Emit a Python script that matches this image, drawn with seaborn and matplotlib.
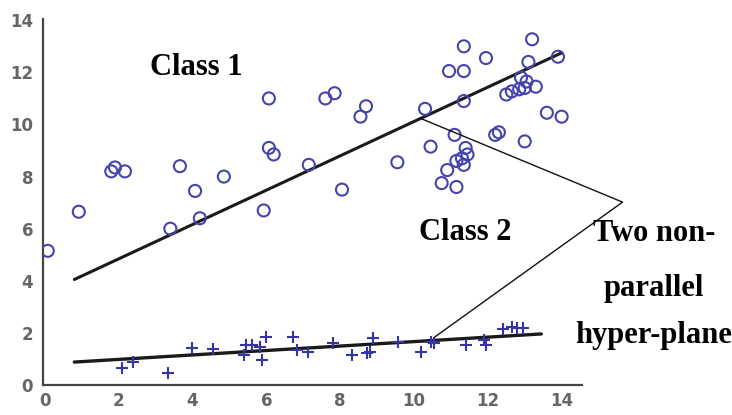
import numpy as np
import pandas as pd
import seaborn as sns
import matplotlib.pyplot as plt

# Class 1 points (circles)
c1_x = [0.08, 0.92, 1.8, 1.9, 2.17, 3.66, 3.4, 4.07, 4.2, 4.85, 5.93, 6.07, 6.07, 6.2,
        7.15, 7.6, 7.85, 8.05, 8.55, 8.7, 9.55, 11.35, 11.95, 10.95, 11.35, 13.2, 13.1,
        13.9, 12.9, 13.05, 12.5, 12.65, 12.85, 13.0, 13.3, 11.35, 10.3, 13.6, 14.0, 11.1,
        12.3, 12.2, 10.45, 13.0, 11.4, 11.45, 11.3, 11.15, 11.35, 10.9, 10.75, 11.15]
c1_y = [5.15, 6.65, 8.2, 8.35, 8.2, 8.4, 6.0, 7.45, 6.4, 8.0, 6.7, 11.0, 9.1, 8.85,
        8.45, 11.0, 11.2, 7.5, 10.3, 10.7, 8.55, 13.0, 12.55, 12.05, 12.05, 13.27, 12.4,
        12.6, 11.8, 11.65, 11.15, 11.27, 11.35, 11.4, 11.45, 10.9, 10.6, 10.45, 10.3, 9.6,
        9.7, 9.6, 9.15, 9.35, 9.1, 8.85, 8.7, 8.6, 8.45, 8.25, 7.75, 7.6]

# Class 2 points (plus signs)
c2_x = [2.08, 2.38, 3.33, 4.0, 4.55, 5.46, 5.4, 5.6, 5.83, 5.88, 6.0, 6.72, 6.83, 7.13,
        7.8, 8.32, 8.72, 8.9, 8.8, 9.57, 10.2, 10.47, 10.54, 11.4, 11.9, 11.95, 12.4,
        12.65, 12.8, 12.95]
c2_y = [0.65, 0.88, 0.46, 1.42, 1.38, 1.54, 1.15, 1.55, 1.46, 0.96, 1.85, 1.85, 1.35, 1.27,
        1.6, 1.15, 1.23, 1.8, 1.27, 1.65, 1.27, 1.65, 1.6, 1.54, 1.73, 1.54, 2.15,
        2.23, 2.19, 2.19]

# hyper-plane end points
plane1_x = [0.8, 14.0]
plane1_y = [4.05, 12.75]
plane2_x = [0.8, 13.45]
plane2_y = [0.88, 1.96]

# pointer lines to the label
pointer_x = [10.15, 15.65, 10.56]
pointer_y = [10.25, 7.02, 1.84]

df1 = pd.DataFrame({"x": c1_x, "y": c1_y})
df2 = pd.DataFrame({"x": c2_x, "y": c2_y})

sns.set_style("white")
plt.rcParams['font.family'] = ['DejaVu Sans']

fig = plt.figure(figsize=(7.32, 4.15), dpi=100)
ax = fig.add_axes([0.0587, 0.0723, 0.7363, 0.882])

sns.scatterplot(data=df1, x="x", y="y", ax=ax, marker="o", s=75,
                facecolors="none", edgecolor="#4444aa", linewidth=1.5, zorder=3)
sns.scatterplot(data=df2, x="x", y="y", ax=ax, marker="+", s=70,
                color="#3535a8", linewidth=1.5, zorder=3)

sns.lineplot(x=plane1_x, y=plane1_y, ax=ax, color="#1a1a1a", lw=2.2, zorder=2)
sns.lineplot(x=plane2_x, y=plane2_y, ax=ax, color="#1a1a1a", lw=2.4, zorder=2)

ax.plot(pointer_x, pointer_y, color="#111111", lw=1.0, clip_on=False, zorder=4)

ax.set_xlim(-0.05, 14.55)
ax.set_ylim(0, 14.05)
ax.set_xticks(range(0, 15, 2))
ax.set_yticks(range(0, 15, 2))
ax.set_xlabel("")
ax.set_ylabel("")

sns.despine(ax=ax)
for side in ["left", "bottom"]:
    ax.spines[side].set_color("#444444")
    ax.spines[side].set_linewidth(1.6)
ax.tick_params(direction="in", length=4, width=1.4, color="#444444",
               labelsize=12, labelcolor="#666666")
for lab in ax.get_xticklabels() + ax.get_yticklabels():
    lab.set_fontweight("bold")
ax.tick_params(axis="y", pad=7)
ax.tick_params(axis="x", pad=5)

serif = ["Liberation Serif", "DejaVu Serif"]
txt = dict(family=serif, fontsize=22, fontweight="bold", color="black",
           ha="center", va="center")
ax.text(4.1, 12.2, "Class 1", **txt)
ax.text(11.4, 5.85, "Class 2", **txt)
fig.text(654 / 732, 1 - 233 / 415, "Two non-", **txt)
fig.text(654 / 732, 1 - 288 / 415, "parallel", **txt)
fig.text(654 / 732, 1 - 335 / 415, "hyper-plane", **txt)

fig.savefig("out.png", dpi=100)
